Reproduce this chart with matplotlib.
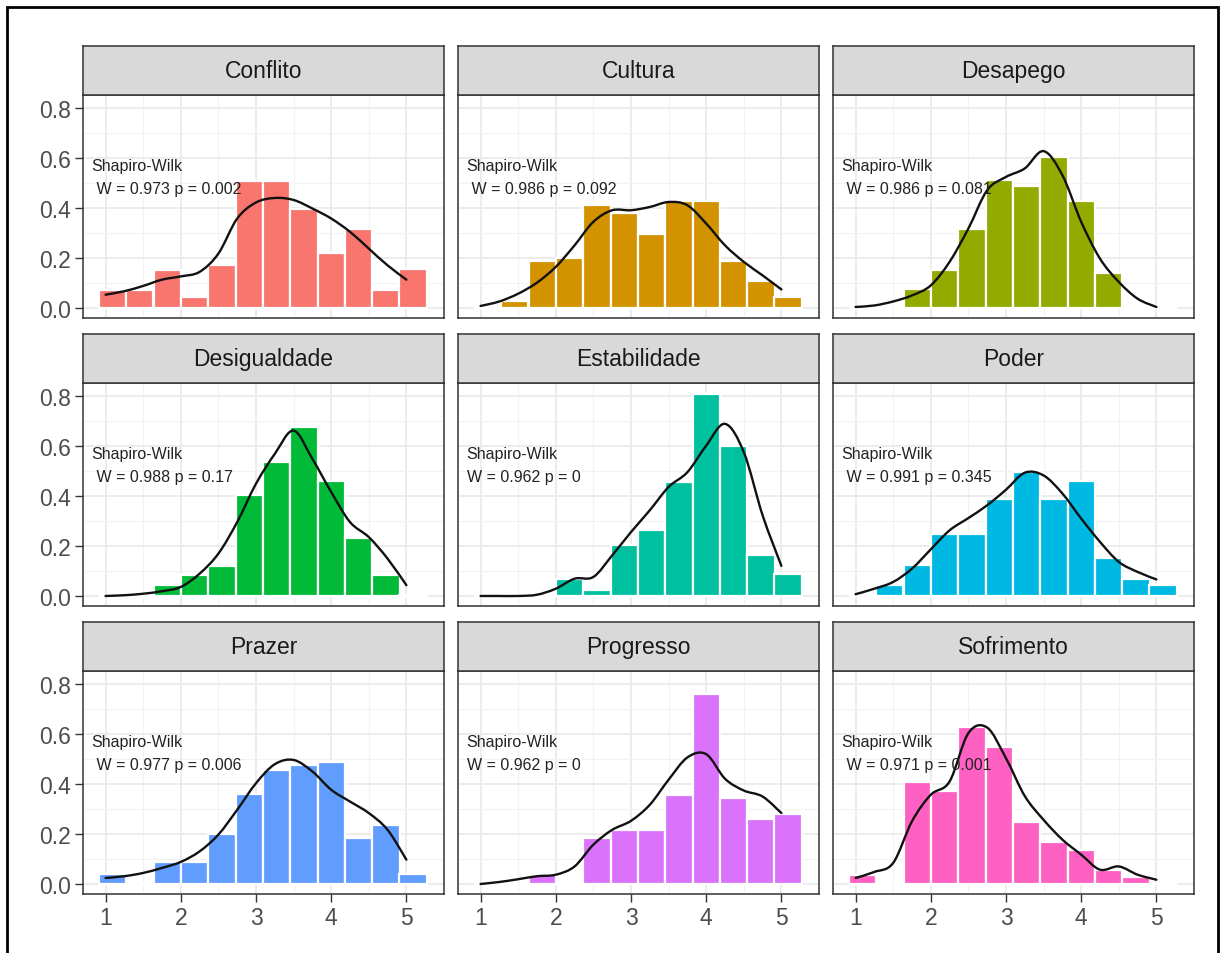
import matplotlib
matplotlib.use("Agg")
import matplotlib.pyplot as plt
from matplotlib.patches import Rectangle, PathPatch
from matplotlib.path import Path
from matplotlib.ticker import MultipleLocator

plt.rcParams['font.family'] = ['Liberation Sans', 'DejaVu Sans']

facets = ["Conflito", "Cultura", "Desapego",
          "Desigualdade", "Estabilidade", "Poder",
          "Prazer", "Progresso", "Sofrimento"]
palette = ["#F8766D", "#D39200", "#93AA00", "#00BA38", "#00C19F",
           "#00B9E3", "#619CFF", "#DB72FB", "#FF61C3"]

shapiro_labels = [" W = 0.973 p = 0.002", " W = 0.986 p = 0.092", " W = 0.986 p = 0.081",
                  " W = 0.988 p = 0.17", "W = 0.962 p = 0", " W = 0.991 p = 0.345",
                  " W = 0.977 p = 0.006", "W = 0.962 p = 0", " W = 0.971 p = 0.001"]

# histogram bins (centres), shared by all facets
bin_centers = [1.09, 1.45, 1.82, 2.18, 2.55, 2.91, 3.27, 3.64, 4.00, 4.36, 4.73, 5.09]
bin_width = 0.3636

conflito_bars = [0.070, 0.070, 0.150, 0.044, 0.170, 0.506, 0.506, 0.394, 0.221, 0.317, 0.070, 0.154]
cultura_bars = [0.0, 0.028, 0.186, 0.201, 0.410, 0.381, 0.297, 0.427, 0.427, 0.186, 0.106, 0.044]
desapego_bars = [0.0, 0.0, 0.074, 0.153, 0.314, 0.510, 0.487, 0.601, 0.426, 0.141, 0.0, 0.0]
desigualdade_bars = [0.0, 0.0, 0.043, 0.085, 0.120, 0.405, 0.534, 0.676, 0.457, 0.233, 0.085, 0.005]
estabilidade_bars = [0.0, 0.0, 0.0, 0.069, 0.025, 0.202, 0.264, 0.454, 0.807, 0.598, 0.165, 0.086]
poder_bars = [0.0, 0.043, 0.122, 0.249, 0.249, 0.388, 0.494, 0.388, 0.457, 0.151, 0.069, 0.043]
prazer_bars = [0.040, 0.0, 0.088, 0.086, 0.199, 0.359, 0.456, 0.473, 0.485, 0.183, 0.234, 0.040]
progresso_bars = [0.0, 0.0, 0.035, 0.0, 0.183, 0.216, 0.216, 0.356, 0.757, 0.345, 0.260, 0.279]
sofrimento_bars = [0.037, 0.0, 0.406, 0.372, 0.628, 0.548, 0.247, 0.166, 0.137, 0.054, 0.028, 0.0]

# density curves, read every 0.25
density_x = [1.0, 1.25, 1.5, 1.75, 2.0, 2.25, 2.5, 2.75, 3.0,
             3.25, 3.5, 3.75, 4.0, 4.25, 4.5, 4.75, 5.0]
conflito_dens = [0.053, 0.067, 0.088, 0.113, 0.126, 0.144, 0.217, 0.357, 0.421,
                 0.439, 0.431, 0.397, 0.357, 0.304, 0.237, 0.170, 0.113]
cultura_dens = [0.008, 0.026, 0.057, 0.101, 0.164, 0.250, 0.344, 0.390, 0.390,
                0.403, 0.423, 0.410, 0.337, 0.250, 0.184, 0.130, 0.074]
desapego_dens = [0.004, 0.010, 0.026, 0.050, 0.090, 0.184, 0.317, 0.470, 0.523,
                 0.557, 0.626, 0.530, 0.344, 0.197, 0.104, 0.037, 0.004]
desigualdade_dens = [0.000, 0.003, 0.009, 0.019, 0.036, 0.089, 0.169, 0.295, 0.448,
                     0.567, 0.660, 0.547, 0.415, 0.295, 0.235, 0.149, 0.043]
estabilidade_dens = [0.000, 0.000, 0.000, 0.005, 0.029, 0.069, 0.076, 0.162, 0.255,
                     0.342, 0.435, 0.494, 0.600, 0.687, 0.574, 0.322, 0.120]
poder_dens = [0.007, 0.029, 0.056, 0.109, 0.186, 0.262, 0.311, 0.362, 0.424,
              0.492, 0.481, 0.409, 0.309, 0.216, 0.136, 0.096, 0.066]
prazer_dens = [0.024, 0.031, 0.044, 0.064, 0.088, 0.130, 0.197, 0.296, 0.402,
               0.478, 0.495, 0.449, 0.376, 0.329, 0.283, 0.216, 0.097]
progresso_dens = [0.000, 0.008, 0.019, 0.031, 0.037, 0.070, 0.157, 0.216, 0.252,
                  0.316, 0.416, 0.505, 0.518, 0.420, 0.373, 0.349, 0.283]
sofrimento_dens = [0.024, 0.048, 0.084, 0.250, 0.356, 0.409, 0.602, 0.624, 0.502,
                   0.351, 0.256, 0.177, 0.117, 0.057, 0.070, 0.037, 0.017]

bars_all = [conflito_bars, cultura_bars, desapego_bars,
            desigualdade_bars, estabilidade_bars, poder_bars,
            prazer_bars, progresso_bars, sofrimento_bars]
dens_all = [conflito_dens, cultura_dens, desapego_dens,
            desigualdade_dens, estabilidade_dens, poder_dens,
            prazer_dens, progresso_dens, sofrimento_dens]


def smooth_path(xs, ys):
    # draw through the read points with bezier segments (catmull-rom handles)
    pts = list(zip(xs, ys))
    n = len(pts)
    verts = [pts[0]]
    codes = [Path.MOVETO]
    for k in range(n - 1):
        p0 = pts[max(k - 1, 0)]
        p1 = pts[k]
        p2 = pts[k + 1]
        p3 = pts[min(k + 2, n - 1)]
        c1 = (p1[0] + (p2[0] - p0[0]) / 6, p1[1] + (p2[1] - p0[1]) / 6)
        c2 = (p2[0] - (p3[0] - p1[0]) / 6, p2[1] - (p3[1] - p1[1]) / 6)
        verts += [c1, c2, p2]
        codes += [Path.CURVE4] * 3
    return Path(verts, codes)


W, H = 1222, 954
fig = plt.figure(figsize=(W / 100, H / 100), dpi=100)
fig.patch.set_facecolor("white")

# outer frame of the page
fig.add_artist(Rectangle((7.5 / W, -0.05), (1218 - 7.5) / W, 1.05 - 7.5 / H,
                         transform=fig.transFigure, fill=False,
                         edgecolor="black", linewidth=2.0))

col_left = [83, 458, 833]
row_top = [96, 384, 672]
pw, ph, sh = 361, 223, 49

for i, name in enumerate(facets):
    r, c = divmod(i, 3)
    left = col_left[c] / W
    bottom = 1 - (row_top[r] + ph) / H
    ax = fig.add_axes([left, bottom, pw / W, ph / H])

    ax.set_xlim(0.70, 5.50)
    ax.set_ylim(-0.04, 0.85)
    ax.xaxis.set_major_locator(MultipleLocator(1))
    ax.xaxis.set_minor_locator(MultipleLocator(0.5))
    ax.yaxis.set_major_locator(MultipleLocator(0.2))
    ax.yaxis.set_minor_locator(MultipleLocator(0.1))
    ax.grid(which="major", color="#EBEBEB", linewidth=1.3)
    ax.grid(which="minor", color="#F2F2F2", linewidth=0.8)
    ax.set_axisbelow(True)

    ax.bar(bin_centers, bars_all[i], width=bin_width, color=palette[i],
           edgecolor="white", linewidth=1.6, zorder=2)
    ax.add_patch(PathPatch(smooth_path(density_x, dens_all[i]), fill=False,
                           edgecolor="#111111", linewidth=1.7, zorder=3,
                           capstyle="round", joinstyle="round"))

    ax.text(0.815, 0.568, "Shapiro-Wilk", fontsize=11.5, color="#222222",
            ha="left", va="center", zorder=4)
    ax.text(0.815, 0.475, shapiro_labels[i], fontsize=11.5, color="#222222",
            ha="left", va="center", zorder=4)

    for s in ax.spines.values():
        s.set_color("#333333")
        s.set_linewidth(1.1)
        s.set_zorder(5)

    ax.tick_params(which="minor", length=0)
    ax.tick_params(which="major", length=5.5, width=1.0, color="#333333",
                   labelcolor="#4D4D4D", labelsize=16.5, pad=3)
    if c == 0:
        ax.set_yticks([0.0, 0.2, 0.4, 0.6, 0.8])
        ax.set_yticklabels(["0.0", "0.2", "0.4", "0.6", "0.8"])
    else:
        ax.tick_params(axis="y", which="major", left=False, labelleft=False)
    if r == 2:
        ax.set_xticks([1, 2, 3, 4, 5])
        ax.set_xticklabels(["1", "2", "3", "4", "5"])
    else:
        ax.tick_params(axis="x", which="major", bottom=False, labelbottom=False)

    # facet strip
    sax = fig.add_axes([left, 1 - row_top[r] / H, pw / W, sh / H])
    sax.set_facecolor("#D9D9D9")
    sax.set_xticks([])
    sax.set_yticks([])
    for s in sax.spines.values():
        s.set_color("#333333")
        s.set_linewidth(1.1)
    sax.text(0.5, 0.5, name, transform=sax.transAxes, ha="center", va="center",
             fontsize=16.5, color="#1A1A1A")

fig.savefig("out.png", dpi=100, facecolor="white")
